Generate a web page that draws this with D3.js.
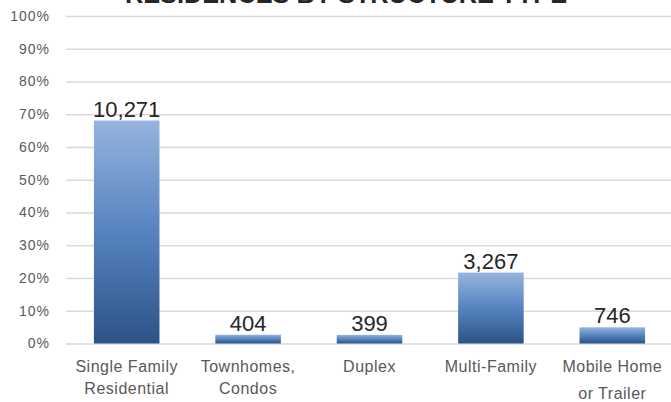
<!DOCTYPE html>
<html>
<head>
<meta charset="utf-8">
<script src="https://cdn.jsdelivr.net/npm/d3@7"></script>
<style>
  html, body { margin: 0; padding: 0; background: #ffffff; }
  svg { display: block; }
</style>
</head>
<body>
<svg id="chart" width="671" height="402"></svg>
<script>
// Residences by structure type: counts, plotted as share of the total
const categories = [
  ["Single Family", "Residential"],
  ["Townhomes,", "Condos"],
  ["Duplex"],
  ["Multi-Family"],
  ["Mobile Home", "or Trailer"]
];
const counts = [10271, 404, 399, 3267, 746];
const yTicks = [0, 0.1, 0.2, 0.3, 0.4, 0.5, 0.6, 0.7, 0.8, 0.9, 1.0];
const title = "RESIDENCES BY STRUCTURE TYPE";

const total = d3.sum(counts);
const data = counts.map((c, i) => ({ key: i, lines: categories[i], count: c, share: c / total }));

const svg = d3.select("#chart");

const x = d3.scaleBand()
  .domain(data.map(d => d.key))
  .range([66, 673])
  .paddingInner(0.46)
  .paddingOuter(0.23);

const y = d3.scaleLinear().domain([0, 1]).range([343.5, 16]);

// bar gradient, light at top to dark at bottom
const defs = svg.append("defs");
const grad = defs.append("linearGradient")
  .attr("id", "barGrad")
  .attr("x1", 0).attr("y1", 0).attr("x2", 0).attr("y2", 1);
grad.append("stop").attr("offset", "0%").attr("stop-color", "#95b4dd");
grad.append("stop").attr("offset", "50%").attr("stop-color", "#5683c0");
grad.append("stop").attr("offset", "100%").attr("stop-color", "#2c5386");

// title (sits at the very top edge)
svg.append("text")
  .attr("x", 346)
  .attr("y", 3)
  .attr("text-anchor", "middle")
  .attr("font-family", "'Liberation Sans', Arial, sans-serif")
  .attr("font-weight", "bold")
  .attr("font-size", 25)
  .attr("textLength", 442)
  .attr("lengthAdjust", "spacingAndGlyphs")
  .attr("fill", "#262626")
  .text(title);

// horizontal gridlines + percent labels
const yAxis = d3.axisLeft(y)
  .tickValues(yTicks)
  .tickFormat(d3.format(".0%"))
  .tickSize(-(671 - 66))
  .tickPadding(16);

const gy = svg.append("g")
  .attr("transform", "translate(66,0)")
  .call(yAxis);
gy.select(".domain").remove();
gy.selectAll(".tick line")
  .attr("stroke", "#d9d9d9")
  .attr("stroke-width", 1.6);
gy.selectAll(".tick text")
  .attr("fill", "#595959")
  .attr("font-family", "'Liberation Sans Narrow', 'Liberation Sans', sans-serif")
  .attr("font-size", 14)
  .attr("letter-spacing", "1px");

// bars
svg.append("g")
  .selectAll("rect")
  .data(data)
  .join("rect")
  .attr("x", d => x(d.key))
  .attr("width", x.bandwidth())
  .attr("y", d => y(d.share))
  .attr("height", d => y(0) - y(d.share))
  .attr("fill", "url(#barGrad)");

// value labels above bars
svg.append("g")
  .selectAll("text")
  .data(data)
  .join("text")
  .attr("x", d => x(d.key) + x.bandwidth() / 2)
  .attr("y", d => y(d.share) - 4)
  .attr("text-anchor", "middle")
  .attr("font-family", "'Liberation Sans', Arial, sans-serif")
  .attr("font-size", 22)
  .attr("fill", "#262626")
  .text(d => d3.format(",")(d.count));

// category labels (wrapped)
const xAxis = d3.axisBottom(x).tickSize(0).tickFormat("");
const gx = svg.append("g")
  .attr("transform", `translate(0,${y(0)})`)
  .call(xAxis);
gx.select(".domain").remove();

gx.selectAll(".tick")
  .append("text")
  .attr("text-anchor", "middle")
  .attr("fill", "#595959")
  .attr("font-family", "'Liberation Sans Narrow', 'Liberation Sans', sans-serif")
  .attr("font-size", 16)
  .attr("letter-spacing", "0.5px")
  .each(function (k) {
    const d = data[k];
    const t = d3.select(this);
    d.lines.forEach((line, j) => {
      const extra = (k === 4 && j === 1) ? 5 : 0;
      t.append("tspan")
        .attr("x", 0)
        .attr("y", 28 + j * 22 + extra)
        .text(line);
    });
  });
</script>
</body>
</html>
